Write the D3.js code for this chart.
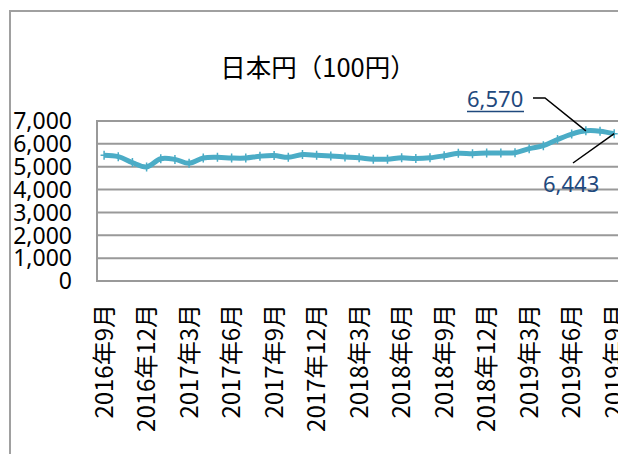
<!DOCTYPE html>
<html><head><meta charset="utf-8">
<script src="https://cdn.jsdelivr.net/npm/d3@7"></script>
<style>html,body{margin:0;padding:0;background:#fff;overflow:hidden}</style>
</head><body>
<svg id="c" width="618" height="454"></svg>
<script>
const categories = [
  "2016年9月","2016年10月","2016年11月","2016年12月",
  "2017年1月","2017年2月","2017年3月","2017年4月","2017年5月","2017年6月",
  "2017年7月","2017年8月","2017年9月","2017年10月","2017年11月","2017年12月",
  "2018年1月","2018年2月","2018年3月","2018年4月","2018年5月","2018年6月",
  "2018年7月","2018年8月","2018年9月","2018年10月","2018年11月","2018年12月",
  "2019年1月","2019年2月","2019年3月","2019年4月","2019年5月","2019年6月",
  "2019年7月","2019年8月","2019年9月"
];
const values = [
  5500,5440,5180,4990,
  5350,5320,5150,5380,5410,5380,
  5380,5460,5490,5410,5530,5500,
  5470,5430,5390,5330,5330,5390,
  5360,5390,5480,5590,5570,5600,
  5600,5610,5790,5920,6190,6430,
  6570,6555,6443
];
const tickLabels = ["2016年9月","2016年12月","2017年3月","2017年6月","2017年9月","2017年12月",
  "2018年3月","2018年6月","2018年9月","2018年12月","2019年3月","2019年6月","2019年9月"];
const yTicks = [0,1000,2000,3000,4000,5000,6000,7000];
const title = "日本円（100円）";
const annotations = [
  {category:"2019年7月", value:6570, text:"6,570"},
  {category:"2019年9月", value:6443, text:"6,443"}
];

(function(){
const svg = d3.select("#c");
const font = "'Noto Sans','Noto Sans CJK JP',sans-serif";
const cjk = "'Noto Sans CJK JP','Noto Sans',sans-serif";

// chart frame
svg.append("rect").attr("x",10).attr("y",11).attr("width",800).attr("height",700)
  .attr("fill","#fff").attr("stroke","#a0a0a0").attr("stroke-width",2);

const pLeft = 97, pTop = 121, pBottom = 281;
const x = d3.scaleBand().domain(categories).range([pLeft, pLeft + categories.length*14.17]).padding(0);
const y = d3.scaleLinear().domain([0,7000]).range([pBottom, pTop]);
const cx = c => x(c) + x.bandwidth()/2;

// gridlines
svg.append("g").selectAll("line").data(yTicks).join("line")
  .attr("x1",pLeft).attr("x2",700)
  .attr("y1",d=>y(d)).attr("y2",d=>y(d))
  .attr("stroke","#999").attr("stroke-width",2);
svg.append("line").attr("x1",pLeft).attr("x2",pLeft).attr("y1",pTop-1).attr("y2",pBottom+1)
  .attr("stroke","#999").attr("stroke-width",2);

// y tick labels
const fmt = d3.format(",");
svg.append("g").selectAll("text").data(yTicks).join("text")
  .attr("x",72).attr("y",d=>y(d)).attr("dy","0.36em")
  .attr("text-anchor","end").attr("font-family",font).attr("font-size",23)
  .attr("fill","#000").text(d=>fmt(d));

// x labels
svg.append("g").selectAll("text").data(tickLabels).join("text")
  .attr("transform",d=>`translate(${cx(d)},304) rotate(-90)`)
  .attr("text-anchor","end").attr("dy","0.36em")
  .attr("font-family",cjk).attr("font-size",24).attr("fill","#000")
  .text(d=>d);

// title
svg.append("text").attr("x",318).attr("y",77).attr("text-anchor","middle")
  .attr("font-family",cjk).attr("font-size",25.5).attr("fill","#000").text(title);

// line
const data = categories.map((c,i)=>({c, v:values[i]}));
const line = d3.line().x(d=>cx(d.c)).y(d=>y(d.v)).curve(d3.curveCatmullRom.alpha(0.5));
svg.append("path").datum(data).attr("d",line).attr("fill","none")
  .attr("stroke","#4bacc6").attr("stroke-width",5).attr("stroke-linejoin","round");
svg.append("g").selectAll("path").data(data).join("path")
  .attr("transform",d=>`translate(${cx(d.c)},${y(d.v)})`)
  .attr("d","M-3.5,0H3.5M0,-4.5V4.5")
  .attr("stroke","#4bacc6").attr("stroke-width",1.5).attr("fill","none");

// annotations
const navy = "#1f497d";
const a1 = annotations[0], a2 = annotations[1];
svg.append("text").attr("x",467).attr("y",107).attr("font-family",font).attr("font-size",22)
  .attr("fill",navy).text(a1.text);
svg.append("line").attr("x1",467).attr("x2",524).attr("y1",111.5).attr("y2",111.5)
  .attr("stroke",navy).attr("stroke-width",1.5);
svg.append("path").attr("d",`M533,98H545L${cx(a1.category)},${y(a1.value)}`)
  .attr("fill","none").attr("stroke","#000").attr("stroke-width",1.5);
svg.append("text").attr("x",543).attr("y",192).attr("font-family",font).attr("font-size",22)
  .attr("fill",navy).text(a2.text);
svg.append("path").attr("d",`M573,163L${cx(a2.category)},${y(a2.value)}`)
  .attr("fill","none").attr("stroke","#000").attr("stroke-width",1.5);
})();
</script>
</body></html>
